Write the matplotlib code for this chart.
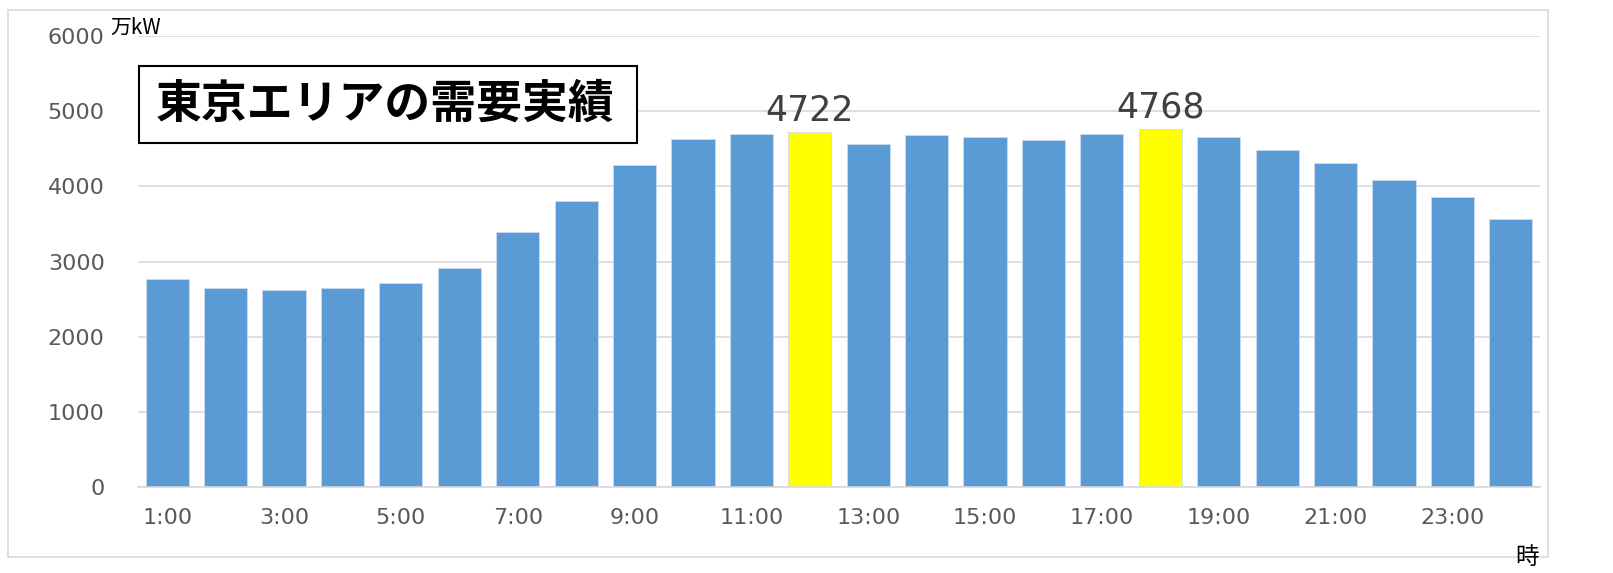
import numpy as np
import matplotlib.pyplot as plt
from matplotlib.patches import Rectangle

plt.rcParams['font.family'] = ['DejaVu Sans', 'Noto Sans CJK JP']

# hourly demand, Tokyo area (万kW)
hours = [f'{h}:00' for h in range(1, 25)]
demand = [2770, 2650, 2620, 2650, 2720, 2920, 3390, 3810, 4290, 4630, 4700, 4722,
          4560, 4680, 4660, 4610, 4700, 4768, 4660, 4480, 4310, 4080, 3860, 3570]
peak_hours = ['12:00', '18:00']
tick_labels = [h if i % 2 == 0 else '' for i, h in enumerate(hours)]

W, H = 1613, 573
fig = plt.figure(figsize=(W / 100, H / 100), dpi=100)

# outer chart frame
fig.patches.append(Rectangle((8 / W, 16 / H), 1540 / W, 547 / H, transform=fig.transFigure,
                             fill=False, edgecolor='#d9d9d9', linewidth=1.2))

ax = fig.add_axes([138 / W, 86 / H, 1402 / W, 451 / H])
x = np.arange(len(hours))
colors = ['#FFFF00' if h in peak_hours else '#5B9BD5' for h in hours]
ax.bar(x, demand, width=0.74, color=colors, edgecolor='#c9dcef', linewidth=0.6, zorder=2)

for h in peak_hours:
    i = hours.index(h)
    ax.text(i, demand[i] + 50, str(demand[i]), ha='center', va='bottom',
            fontsize=25, color='#404040')

ax.set_xlim(-0.5, len(hours) - 0.5)
ax.set_ylim(0, 6000)
ax.set_yticks(range(0, 6001, 1000))
ax.set_xticks(x)
ax.set_xticklabels(tick_labels)
ax.tick_params(axis='x', length=0, pad=15, labelsize=16, labelcolor='#595959')
ax.tick_params(axis='y', length=0, pad=24, labelsize=16, labelcolor='#595959')
ax.grid(axis='y', color='#d9d9d9', linewidth=1.2, zorder=0)
for s in ['top', 'right', 'left']:
    ax.spines[s].set_visible(False)
ax.spines['bottom'].set_color('#d9d9d9')
ax.spines['bottom'].set_linewidth(1.2)

# units
fig.text(110 / W, 1 - 28 / H, '万kW', fontsize=15, ha='left', va='center',
         family=['Noto Sans CJK JP', 'DejaVu Sans'])
fig.text(1527 / W, 1 - 557 / H, '時', fontsize=17, ha='center', va='center',
         family=['Noto Sans CJK JP'])

# title box
fig.patches.append(Rectangle((139 / W, 1 - 143 / H), 498 / W, 77 / H, transform=fig.transFigure,
                             facecolor='white', edgecolor='black', linewidth=1.5, zorder=5))
fig.text(385 / W, 1 - 105 / H, '東京エリアの需要実績', fontsize=33, fontweight='bold',
         ha='center', va='center', family=['Noto Sans CJK JP'], zorder=6)

fig.savefig('out.png', dpi=100)
